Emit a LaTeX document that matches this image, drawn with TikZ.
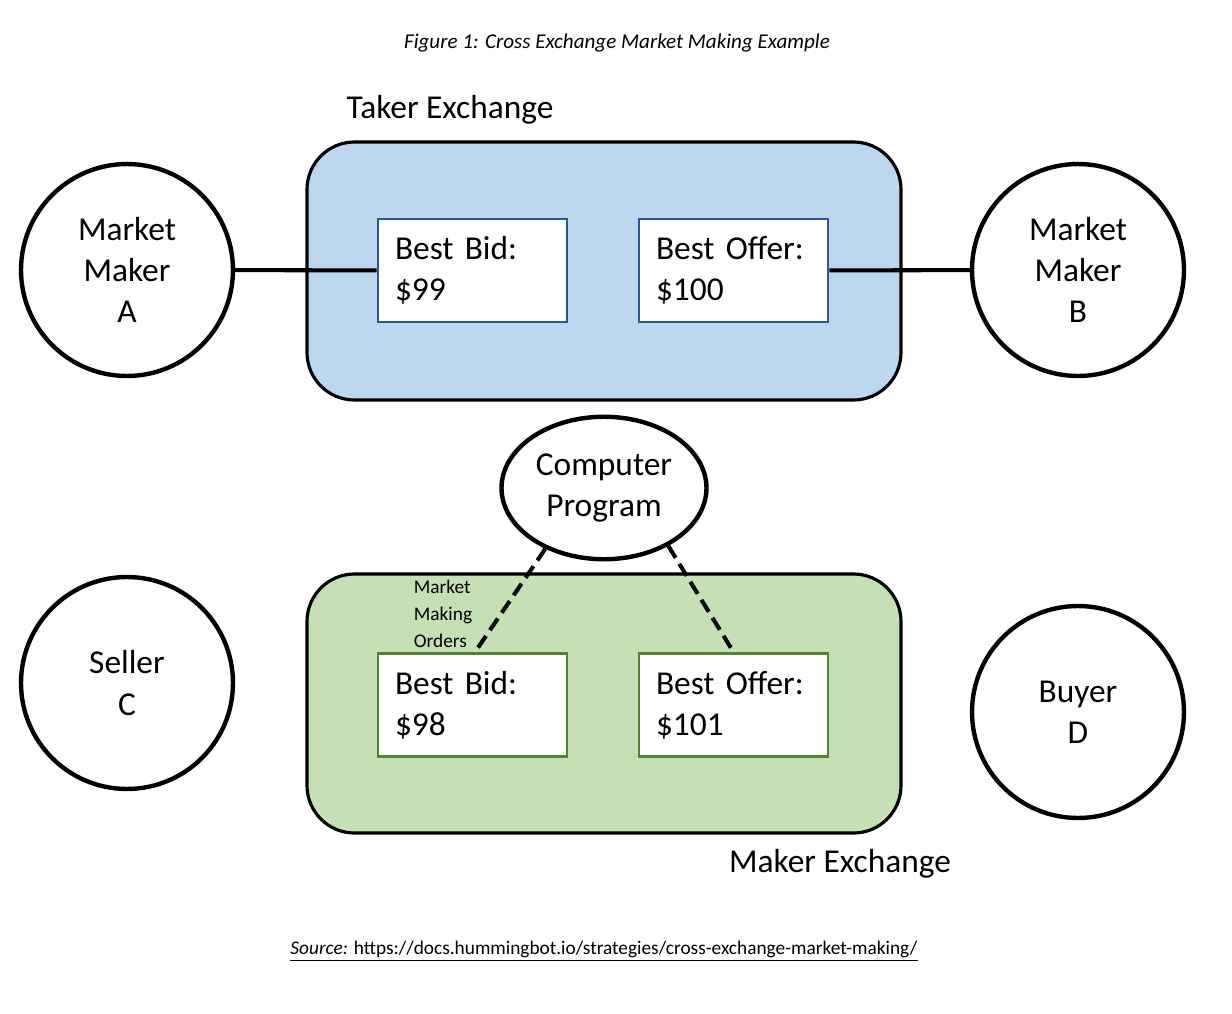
\documentclass[tikz,border=0pt]{standalone}
\usepackage{fontspec}
\setmainfont{Carlito}
\usepackage{tikz}
\usetikzlibrary{shapes.geometric}
\definecolor{takerfill}{HTML}{BDD7EE}
\definecolor{makerfill}{HTML}{C5E0B4}
\definecolor{takerline}{HTML}{2F5597}
\definecolor{makerline}{HTML}{548235}
\newcommand{\bigtext}{\fontsize{19}{23.5}\selectfont}

\begin{document}
\begin{tikzpicture}[x=0.02cm,y=-0.02cm]
    \tikzstyle{exchange}=[draw=black,line width=1.8pt,rounded corners=0.95cm]
    \tikzstyle{order}=[draw,line width=1.6pt,fill=white,minimum width=3.78cm,minimum height=2.06cm,
        text width=3.1cm,align=left,font=\bigtext,inner sep=0pt]
    \tikzstyle{trader}=[circle,draw=black,line width=2.5pt,minimum size=4.24cm,align=center,font=\bigtext,inner sep=0pt]
    \tikzstyle{link}=[line width=2.3pt]
    \useasboundingbox (0,0) rectangle (1232,1014);

    % Title
    \node (title) at (617,43) {\fontsize{12}{14}\selectfont\itshape Figure 1: Cross Exchange Market Making Example};

    % Taker exchange
    \node[font=\bigtext] (takerlabel) at (450,110) {Taker Exchange};
    \draw[exchange,fill=takerfill] (307,142) rectangle (901,400);
    \node[order,draw=takerline] (T-bid) at (472.5,270.5) {Best Bid:\\\$99};
    \node[order,draw=takerline] (T-offer) at (733.5,270.5) {Best Offer:\\\$100};

    % Maker exchange
    \draw[exchange,fill=makerfill] (307,574) rectangle (901,833);
    \node[order,draw=makerline] (M-bid) at (472.5,705) {Best Bid:\\\$98};
    \node[order,draw=makerline] (M-offer) at (733.5,705) {Best Offer:\\\$101};
    \node[font=\bigtext] (makerlabel) at (840,864) {Maker Exchange};

    % Traders
    \node[trader] (A) at (127,270) {Market\\Maker\\A};
    \node[trader] (B) at (1078,270) {Market\\Maker\\B};
    \node[trader] (C) at (127,683) {Seller\\C};
    \node[trader] (D) at (1078,712) {Buyer\\D};
    \node[ellipse,draw=black,line width=2.5pt,minimum width=4.1cm,minimum height=2.85cm,
        align=center,font=\bigtext,inner sep=0pt] (prog) at (604,488) {Computer\\Program};

    % Connections
    \draw[link] (A) -- (T-bid);
    \draw[link] (T-offer) -- (B);
    \draw[link,dash pattern=on 8pt off 4pt] (prog.-134) -- ([xshift=0.05cm]M-bid.north);
    \draw[link,dash pattern=on 8pt off 4pt] (prog.-42) -- (M-offer.north);
    \node[align=left,font=\fontsize{11}{15.5}\selectfont,inner sep=0pt] (orders) at (443,614) {Market\\Making\\Orders};

    % Source
    \node (source) at (604,951) {\fontsize{11}{13}\selectfont\underline{\textit{Source:} https://docs.hummingbot.io/strategies/cross-exchange-market-making/}};
\end{tikzpicture}
\end{document}
